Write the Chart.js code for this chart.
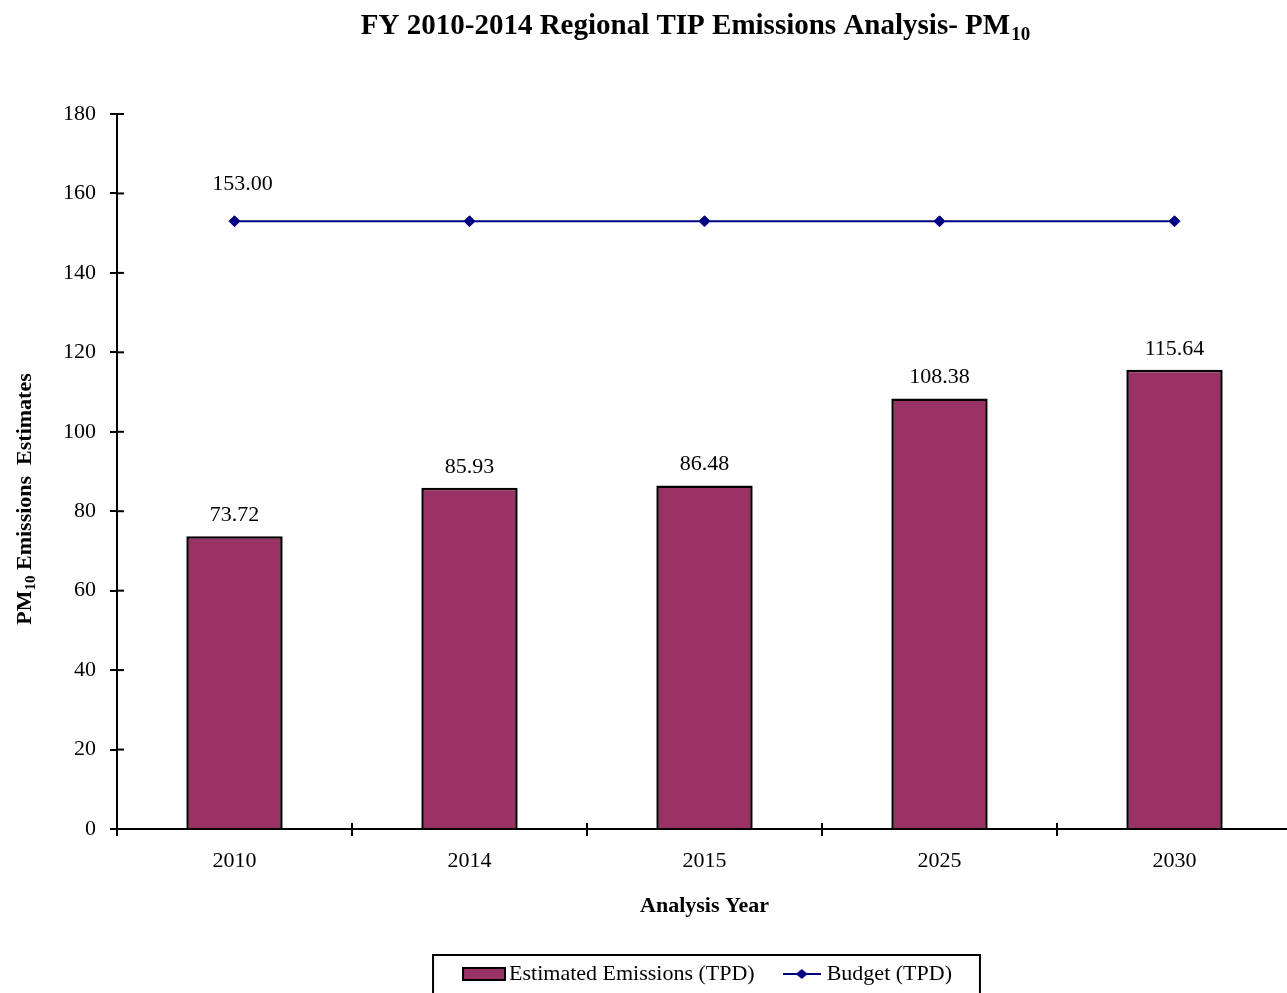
<!DOCTYPE html>
<html>
<head>
<meta charset="utf-8">
<script src="https://cdn.jsdelivr.net/npm/chart.js@4.4.1/dist/chart.umd.min.js"></script>
<style>
html,body{margin:0;padding:0;overflow:hidden;background:#fff;}
#wrap{width:1300px;height:1000px;position:relative;}
</style>
</head>
<body>
<div id="wrap"><canvas id="c"></canvas></div>
<script>
// ---- data ----
const categories = ['2010', '2014', '2015', '2025', '2030'];
const estimatedEmissions = [73.72, 85.93, 86.48, 108.38, 115.64];
const budget = [153.00, 153.00, 153.00, 153.00, 153.00];
const yMin = 0;
const yMax = 180;
const yStep = 20;
const seriesLabels = ['Estimated Emissions (TPD)', 'Budget (TPD)'];
const titleMain = 'FY 2010-2014 Regional TIP Emissions Analysis- PM';
const titleSub = '10';
const yTitleMain = 'PM';
const yTitleSub = '10';
const yTitleRest = ' Emissions  Estimates';
const xTitle = 'Analysis Year';

// ---- styles ----
const BAR_COLOR = '#993366';
const LINE_COLOR = '#000080';
const FONT = "'Liberation Serif', 'Times New Roman', serif";
const LEG_PAD = 33;
const LEG_DX = 65;

Chart.defaults.font.family = FONT;
Chart.defaults.font.size = 22;
Chart.defaults.color = '#000';

function makeBarSwatch() {
  const c = document.createElement('canvas');
  c.width = 44; c.height = 14;
  const g = c.getContext('2d');
  g.fillStyle = BAR_COLOR;
  g.fillRect(1, 1, 42, 12);
  g.strokeStyle = '#000';
  g.lineWidth = 2;
  g.strokeRect(1, 1, 42, 12);
  return c;
}
function makeLineSwatch() {
  const c = document.createElement('canvas');
  c.width = 38; c.height = 14;
  const g = c.getContext('2d');
  g.strokeStyle = LINE_COLOR;
  g.lineWidth = 2;
  g.beginPath(); g.moveTo(0, 7); g.lineTo(38, 7); g.stroke();
  g.fillStyle = LINE_COLOR;
  g.beginPath(); g.moveTo(19 - 6, 7); g.lineTo(19, 2); g.lineTo(19 + 6, 7); g.lineTo(19, 12); g.closePath(); g.fill();
  return c;
}
const barSwatch = makeBarSwatch();
const lineSwatch = makeLineSwatch();

function line(ctx, x1, y1, x2, y2) {
  ctx.beginPath(); ctx.moveTo(x1, y1); ctx.lineTo(x2, y2); ctx.stroke();
}

const decor = {
  id: 'decor',
  afterLayout(chart) {
    const lg = chart.legend;
    if (lg) { lg.left += LEG_DX; lg.right += LEG_DX; }
  },
  afterDraw(chart) {
    const ctx = chart.ctx, ca = chart.chartArea;
    const xs = chart.scales.x, ys = chart.scales.y;
    ctx.save();
    ctx.strokeStyle = '#000';
    ctx.lineWidth = 2;
    // inward tick marks
    ys.ticks.forEach(t => {
      const py = ys.getPixelForValue(t.value);
      line(ctx, ca.left, py, ca.left + 7, py);
    });
    for (let i = 0; i <= categories.length; i++) {
      const px = xs.getPixelForValue(i - 0.5);
      line(ctx, px, ca.bottom, px, ca.bottom - 6);
    }
    // data labels
    ctx.fillStyle = '#000';
    ctx.font = '22px ' + FONT;
    ctx.textAlign = 'center';
    ctx.textBaseline = 'alphabetic';
    chart.getDatasetMeta(0).data.forEach((bar, i) => {
      ctx.fillText(estimatedEmissions[i].toFixed(2), bar.x, bar.y - 15);
    });
    const p0 = chart.getDatasetMeta(1).data[0];
    ctx.fillText(budget[0].toFixed(2), p0.x + 8, p0.y - 31);

    // chart title with subscript
    const tf = 'bold 29px ' + FONT, sf = 'bold 19px ' + FONT;
    ctx.font = tf; const w1 = ctx.measureText(titleMain).width;
    ctx.font = sf; const w2 = ctx.measureText(titleSub).width;
    const tx = 695 - (w1 + w2) / 2;
    ctx.textAlign = 'left';
    ctx.font = tf; ctx.fillText(titleMain, tx, 34);
    ctx.font = sf; ctx.fillText(titleSub, tx + w1 + 1, 40);

    // y-axis title (rotated) with subscript
    const yf = 'bold 22px ' + FONT, ysf = 'bold 15px ' + FONT;
    ctx.font = yf; const a = ctx.measureText(yTitleMain).width;
    const c2 = ctx.measureText(yTitleRest).width;
    ctx.font = ysf; const b = ctx.measureText(yTitleSub).width;
    const total = a + b + c2;
    ctx.save();
    ctx.translate(31, 499);
    ctx.rotate(-Math.PI / 2);
    let x0 = -total / 2;
    ctx.font = yf; ctx.fillText(yTitleMain, x0, 0);
    ctx.font = ysf; ctx.fillText(yTitleSub, x0 + a, 4);
    ctx.font = yf; ctx.fillText(yTitleRest, x0 + a + b, 0);
    ctx.restore();

    // legend frame
    const lg = chart.legend;
    if (lg && lg.legendHitBoxes && lg.legendHitBoxes.length) {
      const hb = lg.legendHitBoxes;
      const span = hb.reduce((s, h) => s + h.width, 0) + LEG_PAD * (hb.length - 1);
      const mid = (lg.left + lg.right) / 2;
      const start = mid - span / 2;
      ctx.strokeStyle = '#000';
      ctx.lineWidth = 2;
      ctx.strokeRect(start - 37, lg.top + 25, span + 65, lg.bottom - lg.top - 25);
    }
    ctx.restore();
  }
};

new Chart(document.getElementById('c'), {
  data: {
    labels: categories,
    datasets: [
      {
        type: 'bar',
        label: seriesLabels[0],
        data: estimatedEmissions,
        backgroundColor: BAR_COLOR,
        borderColor: '#000',
        borderWidth: 2.5,
        categoryPercentage: 1.0,
        barPercentage: 0.41,
        order: 1
      },
      {
        type: 'line',
        label: seriesLabels[1],
        data: budget,
        borderColor: LINE_COLOR,
        borderWidth: 2,
        pointStyle: 'rectRot',
        pointRadius: 5.5,
        pointBackgroundColor: LINE_COLOR,
        pointBorderColor: LINE_COLOR,
        pointBorderWidth: 1,
        fill: false,
        tension: 0,
        order: 0
      }
    ]
  },
  options: {
    responsive: true,
    maintainAspectRatio: false,
    animation: false,
    events: [],
    layout: { padding: { top: 114, left: 0, right: 8, bottom: 5 } },
    plugins: {
      title: { display: false },
      tooltip: { enabled: false },
      legend: {
        display: true,
        position: 'bottom',
        labels: {
          usePointStyle: true,
          pointStyleWidth: 28,
          padding: LEG_PAD,
          font: { size: 22, family: FONT },
          color: '#000',
          generateLabels: () => [
            { text: seriesLabels[0], pointStyle: barSwatch, fillStyle: BAR_COLOR, strokeStyle: '#000', lineWidth: 0, hidden: false, datasetIndex: 0 },
            { text: seriesLabels[1], pointStyle: lineSwatch, fillStyle: LINE_COLOR, strokeStyle: LINE_COLOR, lineWidth: 0, hidden: false, datasetIndex: 1 }
          ]
        }
      }
    },
    scales: {
      x: {
        type: 'category',
        offset: true,
        grid: { offset: true, drawOnChartArea: false, drawTicks: true, tickLength: 7, color: '#000', lineWidth: 2 },
        border: { display: true, color: '#000', width: 2 },
        ticks: { padding: 12, maxRotation: 0, autoSkip: false, color: '#000', font: { size: 22 } },
        title: { display: true, text: xTitle, color: '#000', font: { size: 22, weight: 'bold' }, padding: { top: 0, bottom: 10 } },
        afterFit(scale) { scale.height = 101; }
      },
      y: {
        min: yMin,
        max: yMax,
        grid: { drawOnChartArea: false, drawTicks: true, tickLength: 7, color: '#000', lineWidth: 2 },
        border: { display: true, color: '#000', width: 2 },
        ticks: { stepSize: yStep, padding: 14, color: '#000', font: { size: 22 } },
        afterFit(scale) { scale.width = 117; }
      }
    }
  },
  plugins: [decor]
});
</script>
</body>
</html>
